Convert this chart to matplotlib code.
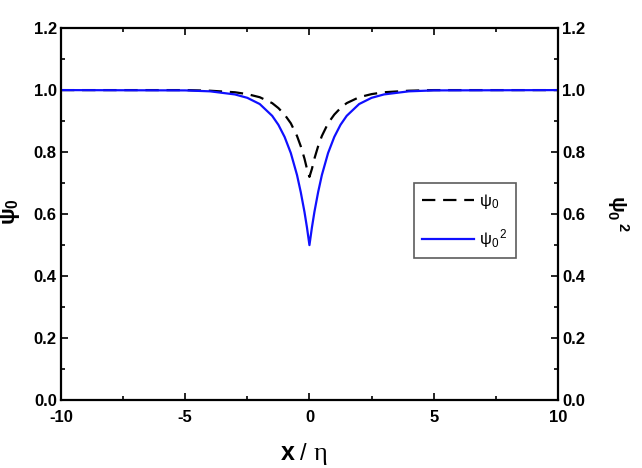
import matplotlib
matplotlib.use("Agg")
import matplotlib.pyplot as plt
from matplotlib.ticker import MultipleLocator

# values (symmetric about x = 0)
x_half = [0.0, 0.1, 0.2, 0.35, 0.5, 0.75, 1.0, 1.25, 1.5, 2.0, 2.5, 3.0, 4.0, 5.0, 10.0]
psi0_half = [0.720, 0.746, 0.779, 0.819, 0.852, 0.893, 0.921, 0.942, 0.958,
             0.977, 0.987, 0.993, 0.998, 1.000, 1.000]
psi0sq_half = [0.500, 0.557, 0.607, 0.671, 0.726, 0.797, 0.849, 0.888, 0.917,
               0.955, 0.975, 0.986, 0.996, 0.999, 1.000]

x = [-v for v in x_half[:0:-1]] + x_half
psi0 = psi0_half[:0:-1] + psi0_half
psi0sq = psi0sq_half[:0:-1] + psi0sq_half

x_ticks = [-10, -5, 0, 5, 10]
y_ticks = [0.0, 0.2, 0.4, 0.6, 0.8, 1.0, 1.2]

plt.rcParams["font.family"] = ["Liberation Sans", "DejaVu Sans"]
plt.rcParams["mathtext.default"] = "regular"

fig = plt.figure(figsize=(6.42, 4.68), dpi=100)
ax = fig.add_axes([0.095, 0.145, 0.774, 0.795])

ax.plot(x, psi0, color="black", lw=1.6, dashes=(6, 3.5), label=r"ψ$_0$")
ax.plot(x, psi0sq, color="#1010ff", lw=1.6, label=r"ψ$_0$$^{\,2}$")

ax.set_xlim(-10, 10)
ax.set_ylim(0, 1.2)
ax.set_xticks(x_ticks)
ax.set_yticks(y_ticks)
ax.set_xticklabels([str(t) for t in x_ticks], fontweight="bold", fontsize=12)
ax.set_yticklabels([f"{t:.1f}" for t in y_ticks], fontweight="bold", fontsize=12)
ax.xaxis.set_minor_locator(MultipleLocator(2.5))
ax.yaxis.set_minor_locator(MultipleLocator(0.1))
ax.tick_params(which="both", direction="in", top=True, right=True,
               labelright=True, width=1.2)
ax.tick_params(which="major", length=5)
ax.tick_params(axis="x", which="major", pad=7)
ax.tick_params(axis="y", which="major", pad=3)
ax.tick_params(which="minor", length=3)
for s in ax.spines.values():
    s.set_linewidth(1.6)

# x label: bold "x", "/", upright serif eta
fig.text(0.4595, 0.017, "x", fontsize=18, fontweight="bold", ha="right", va="baseline")
fig.text(0.468, 0.017, "/", fontsize=17, ha="left", va="baseline")
fig.text(0.489, 0.017, "η", fontsize=19, family="Liberation Serif",
         ha="left", va="baseline")

fig.text(0.016, 0.547, r"ψ$_0$", rotation=90, fontsize=16, fontweight="bold",
         ha="center", va="center")
fig.text(0.963, 0.545, r"ψ$_0$$^{\,2}$", rotation=270, fontsize=15,
         fontweight="bold", ha="center", va="center")

leg = ax.legend(loc="upper left", bbox_to_anchor=(0.71, 0.583), frameon=True,
                fancybox=False, edgecolor="#333333", fontsize=12,
                handlelength=3.1, handletextpad=0.3, borderpad=0.5,
                labelspacing=1.0, borderaxespad=0)
leg.get_frame().set_linewidth(1.2)

fig.savefig("out.png", dpi=100)
